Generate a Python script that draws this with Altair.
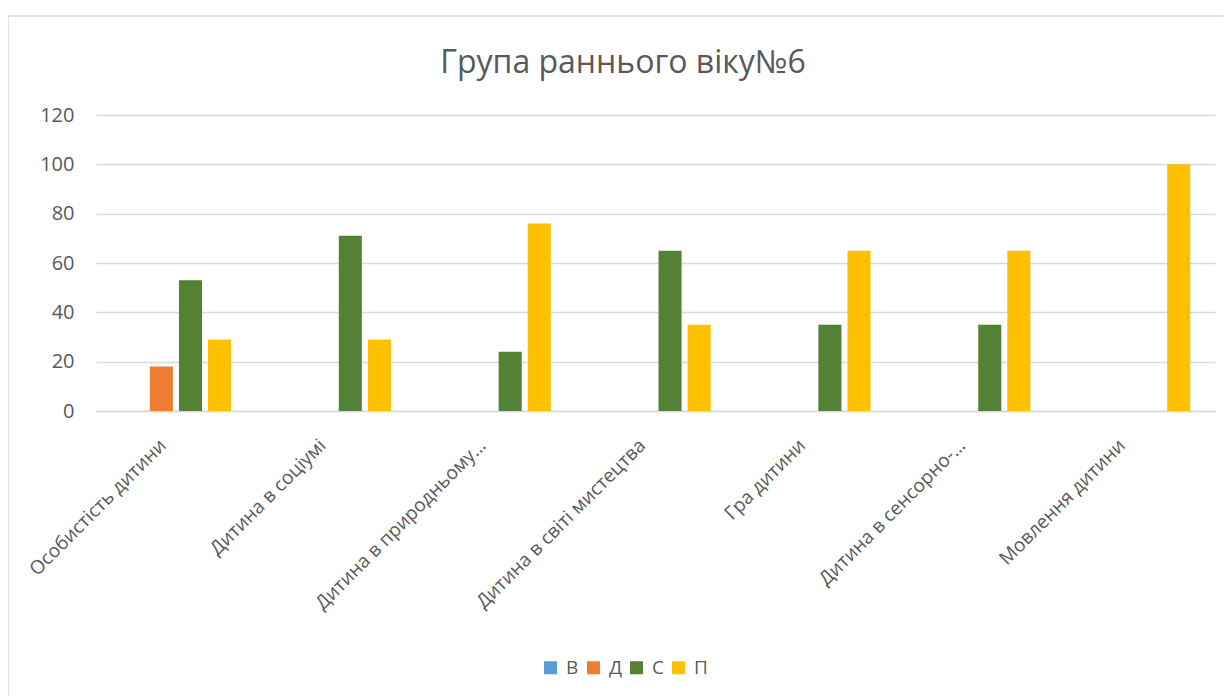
import altair as alt
import pandas as pd

categories = ["Особистість дитини", "Дитина в соціумі", "Дитина в природньому…",
              "Дитина в світі мистецтва", "Гра дитини", "Дитина в сенсорно-…",
              "Мовлення дитини"]
series = ["В", "Д", "С", "П"]
colors = ["#5B9BD5", "#ED7D31", "#548235", "#FFC000"]
v_B = [0, 0, 0, 0, 0, 0, 0]
v_D = [18, 0, 0, 0, 0, 0, 0]
v_C = [53, 71, 24, 65, 35, 35, 0]
v_P = [29, 29, 76, 35, 65, 65, 100]
y_ticks = [0, 20, 40, 60, 80, 100, 120]
title_text = "Група раннього віку№6"

rows = []
for s, vals in zip(series, [v_B, v_D, v_C, v_P]):
    for c, v in zip(categories, vals):
        rows.append({"cat": c, "ser": s, "val": v})
df = pd.DataFrame(rows)

W, H = 1119, 296
FONT = "Open Sans"
GREY = "#595959"

border = alt.Chart(pd.DataFrame({"a": [0]})).mark_rect(
    fill="transparent", stroke="#D9D9D9", strokeWidth=1.5, clip=False
).encode(x=alt.value(-88), x2=alt.value(1144), y=alt.value(-99), y2=alt.value(600))

title = alt.Chart(pd.DataFrame({"t": [title_text]})).mark_text(
    font=FONT, fontSize=32, color=GREY, align="center", baseline="middle"
).encode(text="t:N", x=alt.value(527), y=alt.value(-52))

bars = alt.Chart(df).mark_bar().encode(
    x=alt.X("cat:N", sort=categories,
            scale=alt.Scale(paddingInner=0.31, paddingOuter=0.155),
            axis=alt.Axis(title=None, labelAngle=-45, labelAlign="right",
                          labelBaseline="middle", labelFontSize=19, labelColor=GREY,
                          labelFont=FONT, labelPadding=31, labelOffset=-13, ticks=False,
                          domainColor="#D9D9D9", domainWidth=1.5, labelLimit=400)),
    xOffset=alt.XOffset("ser:N", sort=series, scale=alt.Scale(paddingInner=0.207)),
    y=alt.Y("val:Q", scale=alt.Scale(domain=[0, 120]),
            axis=alt.Axis(title=None, values=y_ticks, domain=False, ticks=False,
                          labelFontSize=20, labelColor=GREY, labelFont=FONT,
                          labelPadding=22, gridColor="#D9D9D9", gridWidth=1.5)),
    color=alt.Color("ser:N", sort=series,
                    scale=alt.Scale(domain=series, range=colors),
                    legend=alt.Legend(title=None, orient="none", direction="horizontal",
                                      legendX=445, legendY=543, symbolType="square",
                                      symbolSize=169, symbolStrokeWidth=0,
                                      labelFontSize=19, labelColor=GREY, labelFont=FONT,
                                      columnPadding=5, labelOffset=6)),
)

chart = alt.layer(border, title, bars).properties(
    width=W, height=H,
    autosize=alt.AutoSizeParams(type="none"),
    padding={"left": 88, "top": 107, "right": 8, "bottom": 285},
).configure_view(stroke=None)

chart.save("out.html", embed_options={"renderer": "svg", "actions": False})
